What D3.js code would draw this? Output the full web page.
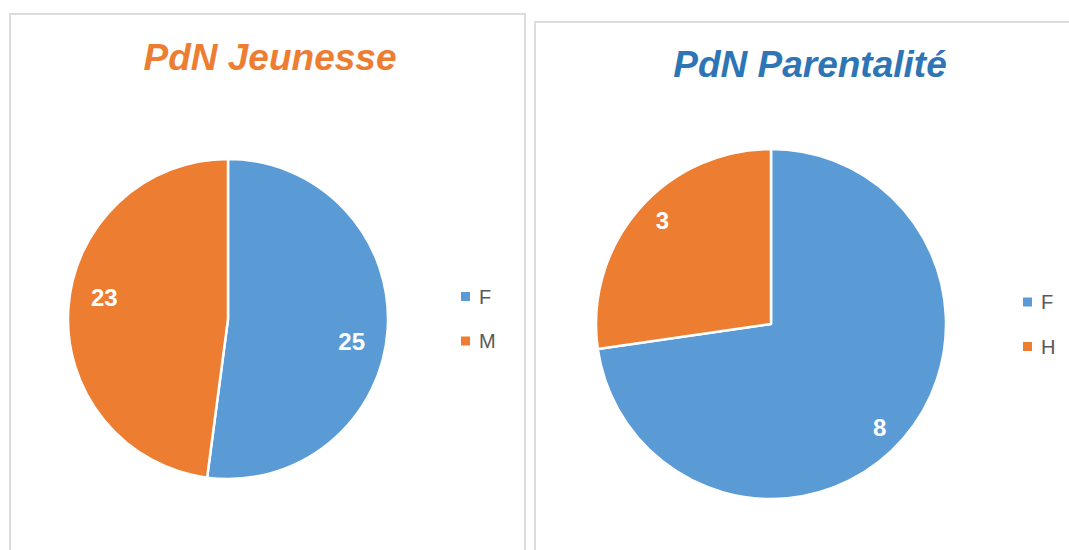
<!DOCTYPE html>
<html><head><meta charset="utf-8">
<script src="https://cdn.jsdelivr.net/npm/d3@7"></script>
<style>body{margin:0;background:#fff}svg{display:block}</style>
</head><body>
<svg id="c" width="1069" height="550"></svg>
<script>
const titles = ["PdN Jeunesse", "PdN Parentalité"];
const categoriesJ = ["F", "M"];
const valuesJ = [25, 23];
const categoriesP = ["F", "H"];
const valuesP = [8, 3];
const colors = ["#5B9BD5", "#ED7D31"];
const titleColors = ["#ED7D31", "#2E75B6"];

const svg = d3.select("#c");
const panels = [
  {x:10, y:14, w:515, h:560, cx:228, cy:319, r:160, lr:0.785, la:6.3, title:titles[0], tx:270, ty:70, cats:categoriesJ, vals:valuesJ, lx:461, ly:296.5, tc:titleColors[0]},
  {x:535, y:22, w:560, h:560, cx:771, cy:324, r:175, lr:0.857, la:2.7, title:titles[1], tx:810, ty:77, cats:categoriesP, vals:valuesP, lx:1023, ly:302, tc:titleColors[1]}
];
panels.forEach(p => {
  svg.append("rect").attr("x", p.x).attr("y", p.y).attr("width", p.w).attr("height", p.h)
    .attr("fill", "#fff").attr("stroke", "#d9d9d9").attr("stroke-width", 1.8);
  svg.append("text").attr("x", p.tx).attr("y", p.ty).attr("text-anchor", "middle")
    .attr("font-family", "Liberation Sans, Arial, sans-serif").attr("font-weight", "bold")
    .attr("font-style", "italic").attr("font-size", 37).attr("fill", p.tc).text(p.title);
  const color = d3.scaleOrdinal().domain(p.cats).range(colors);
  const pie = d3.pie().sort(null).value(d => d.v);
  const data = pie(p.cats.map((c, i) => ({c, v: p.vals[i]})));
  const arc = d3.arc().innerRadius(0).outerRadius(p.r);
  const g = svg.append("g").attr("transform", `translate(${p.cx},${p.cy})`);
  g.selectAll("path").data(data).join("path").attr("d", arc)
    .attr("fill", d => color(d.data.c)).attr("stroke", "#fff").attr("stroke-width", 2.5).attr("stroke-linejoin", "round");
  const off = p.la * Math.PI / 180;
  g.selectAll("text").data(data).join("text")
    .attr("transform", d => {
      const a = (d.startAngle + d.endAngle) / 2 + off;
      const rr = p.r * p.lr;
      return `translate(${rr * Math.sin(a)},${-rr * Math.cos(a)})`;
    })
    .attr("text-anchor", "middle").attr("dy", "0.36em")
    .attr("font-family", "Liberation Sans, Arial, sans-serif").attr("font-weight", "bold")
    .attr("font-size", 24).attr("fill", "#fff").text(d => d.data.v);
  const lg = svg.append("g");
  p.cats.forEach((c, i) => {
    const y = p.ly + i * 44.5;
    lg.append("rect").attr("x", p.lx).attr("y", y - 4.5).attr("width", 9).attr("height", 9).attr("fill", color(c));
    lg.append("text").attr("x", p.lx + 18).attr("y", y).attr("dy", "0.36em")
      .attr("font-family", "Liberation Sans, Arial, sans-serif").attr("font-size", 20)
      .attr("fill", "#595959").text(c);
  });
});
</script>
</body></html>
